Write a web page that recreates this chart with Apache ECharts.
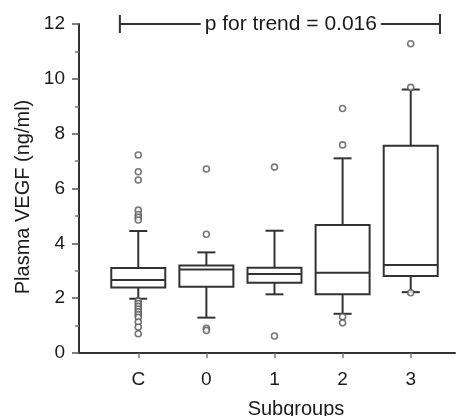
<!DOCTYPE html>
<html>
<head>
<meta charset="utf-8">
<script src="https://cdn.jsdelivr.net/npm/echarts@6/dist/echarts.min.js"></script>
<style>
html,body{margin:0;padding:0;background:#fff;}
#chart{width:456px;height:416px;}
</style>
</head>
<body>
<div id="chart"></div>
<script>
// ---- data ----
const categories = ['C', '0', '1', '2', '3'];
const catPos = [0, 1, 2, 3, 4];
const boxMin = [1.98, 1.29, 2.14, 1.43, 2.22];
const boxQ1 = [2.39, 2.42, 2.56, 2.14, 2.81];
const boxMedian = [2.66, 3.05, 2.88, 2.93, 3.21];
const boxQ3 = [3.10, 3.19, 3.11, 4.67, 7.56];
const boxMax = [4.45, 3.67, 4.46, 7.10, 9.61];
const outliersC = [7.22, 6.61, 6.31, 5.21, 5.05, 4.95, 4.85, 1.9, 1.8, 1.7, 1.6, 1.5, 1.4, 1.3, 1.13, 0.95, 0.70];
const outliers0 = [6.71, 4.33, 0.90, 0.82];
const outliers1 = [6.78, 0.62];
const outliers2 = [8.92, 7.59, 1.32, 1.10];
const outliers3 = [11.28, 9.69, 2.20];
const yTicks = [0, 2, 4, 6, 8, 10, 12];
const trendText = 'p for trend = 0.016';
const trendSpan = [-0.27, 4.43];
const trendY = 12;
const trendTextPos = 2.24;

const allOutliers = [outliersC, outliers0, outliers1, outliers2, outliers3];
const boxData = catPos.map((x, i) => [x, boxMin[i], boxQ1[i], boxMedian[i], boxQ3[i], boxMax[i]]);
const outlierData = [];
allOutliers.forEach((arr, i) => arr.forEach(v => outlierData.push([catPos[i], v])));

const stroke = '#333';
const chart = echarts.init(document.getElementById('chart'));
chart.setOption({
  animation: false,
  backgroundColor: '#fff',
  textStyle: { fontFamily: 'Liberation Sans, Arial, sans-serif' },
  grid: { left: 79, right: 1, top: 24, bottom: 63 },
  xAxis: {
    type: 'value', min: -0.87, max: 4.65,
    axisLine: { show: true, onZero: false, lineStyle: { color: stroke, width: 2 } },
    axisTick: { show: true, customValues: catPos, length: 5, lineStyle: { color: '#777', width: 1.5 } },
    axisLabel: {
      customValues: catPos, margin: 17, fontSize: 19, color: '#1a1a1a',
      formatter: v => categories[catPos.indexOf(Math.round(v))] || ''
    },
    splitLine: { show: false }
  },
  yAxis: {
    type: 'value', min: 0, max: 12, interval: 2,
    axisLine: { show: true, onZero: false, lineStyle: { color: stroke, width: 2 } },
    axisTick: { show: true, length: 7, lineStyle: { color: '#555', width: 1.5 } },
    minorTick: { show: true, splitNumber: 2, length: 4, lineStyle: { color: '#777', width: 1.5 } },
    axisLabel: { margin: 14, fontSize: 19, color: '#1a1a1a' },
    splitLine: { show: false },
    minorSplitLine: { show: false }
  },
  graphic: [
    { type: 'text', x: 23, y: 197, rotation: Math.PI / 2,
      style: { text: 'Plasma VEGF (ng/ml)', font: '20px "Liberation Sans", Arial, sans-serif', fill: '#1a1a1a', align: 'center', verticalAlign: 'middle' } },
    { type: 'text', x: 296, y: 409,
      style: { text: 'Subgroups', font: '20px "Liberation Sans", Arial, sans-serif', fill: '#1a1a1a', align: 'center', verticalAlign: 'middle' } }
  ],
  series: [
    {
      type: 'custom',
      data: boxData,
      z: 2,
      renderItem: function (params, api) {
        const x = api.value(0);
        const low = api.coord([x, api.value(1)]);
        const q1 = api.coord([x, api.value(2)]);
        const med = api.coord([x, api.value(3)]);
        const q3 = api.coord([x, api.value(4)]);
        const high = api.coord([x, api.value(5)]);
        const cx = low[0], hw = 27, cw = 9;
        const st = { stroke: stroke, lineWidth: 2, fill: null };
        return {
          type: 'group',
          children: [
            { type: 'line', shape: { x1: cx, y1: q3[1], x2: cx, y2: high[1] }, style: st },
            { type: 'line', shape: { x1: cx, y1: q1[1], x2: cx, y2: low[1] }, style: st },
            { type: 'line', shape: { x1: cx - cw, y1: high[1], x2: cx + cw, y2: high[1] }, style: st },
            { type: 'line', shape: { x1: cx - cw, y1: low[1], x2: cx + cw, y2: low[1] }, style: st },
            { type: 'rect', shape: { x: cx - hw, y: q3[1], width: 2 * hw, height: q1[1] - q3[1] }, style: { stroke: stroke, lineWidth: 2, fill: '#fff' } },
            { type: 'line', shape: { x1: cx - hw, y1: med[1], x2: cx + hw, y2: med[1] }, style: st }
          ]
        };
      }
    },
    {
      type: 'scatter',
      data: outlierData,
      z: 3,
      symbol: 'circle',
      symbolSize: 6,
      itemStyle: { color: '#fff', borderColor: '#555', borderWidth: 1.6 }
    },
    {
      type: 'custom',
      data: [[trendSpan[0], trendSpan[1], trendY, trendTextPos]],
      z: 4,
      renderItem: function (params, api) {
        const a = api.coord([api.value(0), api.value(2)]);
        const b = api.coord([api.value(1), api.value(2)]);
        const t = api.coord([api.value(3), api.value(2)]);
        const st = { stroke: stroke, lineWidth: 2 };
        return {
          type: 'group',
          children: [
            { type: 'line', shape: { x1: a[0], y1: a[1], x2: b[0], y2: b[1] }, style: st },
            { type: 'line', shape: { x1: a[0], y1: a[1] - 9, x2: a[0], y2: a[1] + 9 }, style: st },
            { type: 'line', shape: { x1: b[0], y1: b[1] - 10, x2: b[0], y2: b[1] + 10 }, style: st },
            { type: 'text', x: t[0], y: t[1],
              style: { text: trendText, font: '21px "Liberation Sans", Arial, sans-serif', fill: '#1a1a1a', align: 'center', verticalAlign: 'middle', backgroundColor: '#fff', padding: [0, 4] } }
          ]
        };
      }
    }
  ]
});
</script>
</body>
</html>
